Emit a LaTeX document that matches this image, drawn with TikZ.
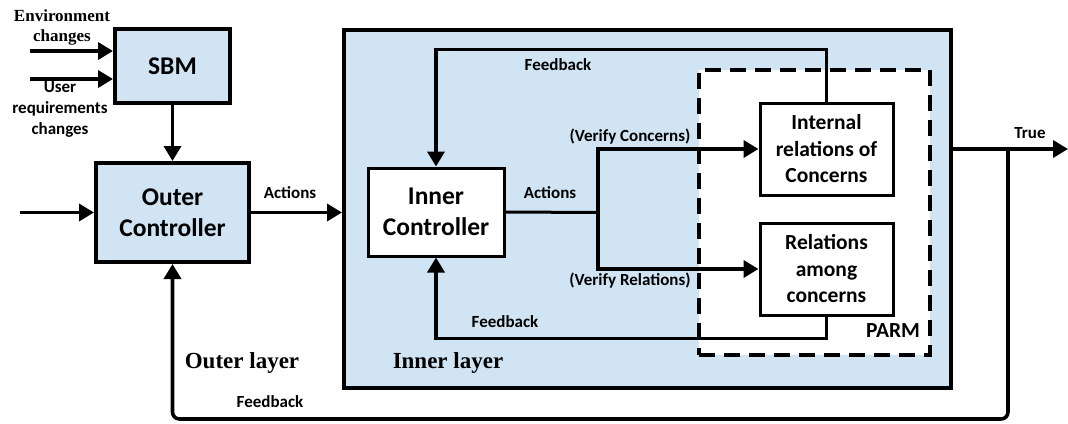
\documentclass[tikz,border=0pt]{standalone}
\usepackage{fontspec}
\setmainfont{Carlito}
\newfontfamily\tnr{Liberation Serif}
\usetikzlibrary{arrows.meta}
\definecolor{lb}{RGB}{208,228,244}
\begin{document}
\begin{tikzpicture}[x=1pt,y=-1pt,
  arr/.style={line width=3.6pt,-{Triangle[length=15pt,width=17pt]}},
  bigbox/.style={draw,line width=4pt,fill=lb,font=\bfseries\fontsize{25.5}{31}\selectfont,align=center,inner sep=0pt},
  wbox/.style={draw,line width=3pt,fill=white,align=center,inner sep=0pt},
  lbl/.style={font=\bfseries\fontsize{17}{21}\selectfont,align=center,inner sep=0pt},
  serl/.style={font=\tnr\bfseries\fontsize{17}{20}\selectfont,align=center,inner sep=0pt}]
\useasboundingbox (0,0) rectangle (1068,423);
% containers
\node[draw,line width=4pt,fill=lb,minimum width=607pt,minimum height=358pt,inner sep=0pt] (inner) at (647.5,209) {};
\node[draw,line width=3.4pt,dash pattern=on 16pt off 9pt,fill=white,minimum width=231pt,minimum height=285pt,inner sep=0pt] (parm) at (814.5,212.5) {};
% boxes
\node[bigbox,minimum width=115pt,minimum height=74pt] (sbm) at (172.5,66) {SBM};
\node[bigbox,minimum width=153pt,minimum height=99pt] (oc) at (172.5,212.5) {Outer\\Controller};
\node[wbox,font=\bfseries\fontsize{25.5}{31}\selectfont,minimum width=136pt,minimum height=88pt] (ic) at (436,212) {Inner\\Controller};
\node[wbox,font=\bfseries\fontsize{21.5}{26.5}\selectfont,minimum width=133pt,minimum height=92pt] (irc) at (826.5,149) {Internal\\relations of\\Concerns};
\node[wbox,font=\bfseries\fontsize{21.5}{26.5}\selectfont,minimum width=133pt,minimum height=92pt] (rac) at (826.5,269) {Relations\\among\\concerns};
% coordinates
\coordinate (e1) at (30,51);
\coordinate (e2) at (30,79);
\coordinate (e3) at (20,212.5);
\coordinate (j) at (598,212.5);
\coordinate (tj) at (1008,149);
\coordinate (tend) at (1068,149);
\coordinate (bl) at (172.5,419);
% connectors
\draw[arr] (e1) -- (sbm.west |- e1);
\draw[arr] (e2) -- (sbm.west |- e2);
\draw[arr] (sbm.south) -- (oc.north);
\draw[arr] (e3) -- (oc.west);
\draw[arr] (oc.east) -- (oc.east -| inner.west);
\draw[arr] (irc.north) -- ++(0,-52) -| (ic.north);
\draw[arr] (rac.south) -- ++(0,22) -| (ic.south);
\draw[line width=3pt] (ic.east) -- (j);
\draw[arr] (j) |- (irc.west);
\draw[arr] (j) |- (rac.west);
\draw[arr] (inner.east |- tj) -- (tend);
\draw[arr,rounded corners=7pt] (tj) |- (bl) -- (oc.south);
% labels
\node[serl] (envl) at (62,27) {Environment\\changes};
\node[lbl] (usrl) at (60,109) {User\\requirements\\changes};
\node[lbl] (act1) at (290,193) {Actions};
\node[lbl] (fb1) at (558,65) {Feedback};
\node[lbl] (act2) at (550,193) {Actions};
\node[lbl] (vc) at (630,137) {(Verify Concerns)};
\node[lbl] (vr) at (630,281) {(Verify Relations)};
\node[lbl] (fb2) at (505,322) {Feedback};
\node[lbl,font=\bfseries\fontsize{21.5}{25}\selectfont] (parml) at (893,331) {PARM};
\node[lbl] (truel) at (1030,133) {True};
\node[lbl] (fb3) at (270,402) {Feedback};
\node[serl,font=\tnr\bfseries\fontsize{23}{26}\selectfont] (outl) at (242,363) {Outer layer};
\node[serl,font=\tnr\bfseries\fontsize{23}{26}\selectfont] (innl) at (448,363) {Inner layer};
\end{tikzpicture}
\end{document}
